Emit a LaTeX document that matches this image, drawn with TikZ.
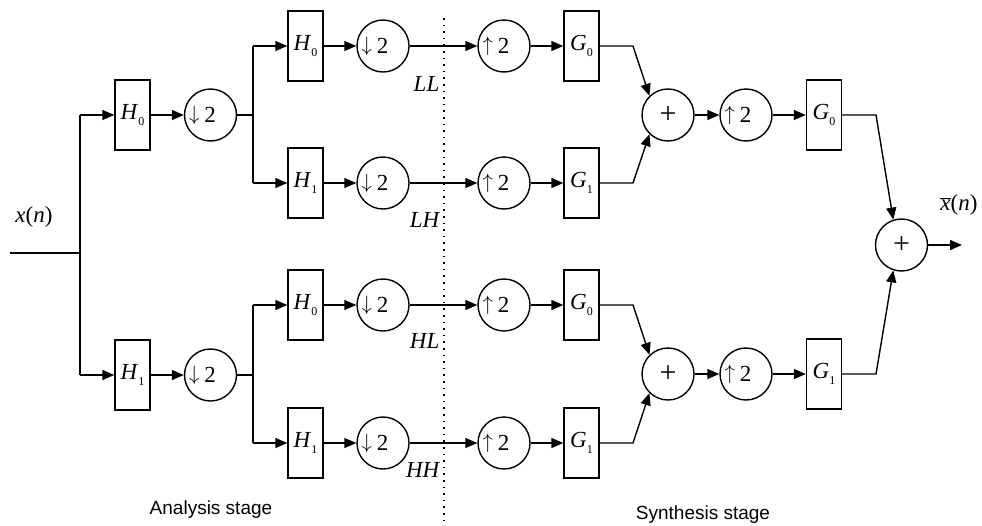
\documentclass[tikz,border=0pt]{standalone}
\usepackage{fontspec}
\setmainfont{Liberation Serif}
\newfontfamily\labelsans{Liberation Sans}
\usetikzlibrary{arrows.meta}
\newcommand{\flt}[2]{\textit{#1}\raisebox{-0.25em}{\fontsize{12}{12}\selectfont #2}}
\newcommand{\arr}[1]{\raisebox{2.5pt}{\fontsize{20.74}{21}\selectfont$#1$}}
\newcommand{\dn}{\arr{\downarrow}\kern5pt 2\kern16pt}
\newcommand{\up}{\arr{\uparrow}\kern5pt 2\kern16pt}
\begin{document}
\begin{tikzpicture}[x=1pt,y=-1pt, line width=1.4pt,
  filt/.style={draw, minimum width=35pt, minimum height=70pt, inner sep=0pt, font=\fontsize{23}{27}\selectfont},
  samp/.style={draw, circle, minimum size=52pt, inner sep=0pt, font=\fontsize{23}{27}\selectfont},
  summ/.style={draw, circle, minimum size=52pt, inner sep=0pt, font=\fontsize{30}{32}\selectfont},
  conn/.style={-{Triangle[length=12pt,width=10pt]}},
  band/.style={font=\fontsize{23}{27}\selectfont, inner sep=0pt},
  bandit/.style={font=\fontsize{23}{27}\selectfont\itshape, inner sep=0pt, anchor=east},
  stage/.style={font=\fontsize{19}{22}\selectfont\labelsans, inner sep=0pt},
  sep/.style={line width=1.6pt, dash pattern=on 1.6pt off 5pt}]
\useasboundingbox (0,0) rectangle (982,525);

% input
\coordinate (in) at (10,253);
\coordinate (j0) at (80,253);
\coordinate (j0a) at (80,115);
\coordinate (j0b) at (80,375);
\node[band] (xin) at (34,217) {\textit{x}(\textit{n})};

% level 1
\node[filt] (H0a) at (132.5,115) {\flt{H}{0}};
\node[filt] (H1a) at (132.5,375) {\flt{H}{1}};
\node[samp] (D1a) at (210.5,115) {\dn};
\node[samp] (D1b) at (210.5,375) {\dn};
\coordinate (ja) at (253,115);
\coordinate (jb) at (253,375);
\coordinate (ja1) at (253,46);
\coordinate (ja2) at (253,183);
\coordinate (jb1) at (253,305);
\coordinate (jb2) at (253,443);

% level 2 analysis
\node[filt] (HA0) at (305.5,46) {\flt{H}{0}};
\node[filt] (HA1) at (305.5,183) {\flt{H}{1}};
\node[filt] (HB0) at (305.5,305) {\flt{H}{0}};
\node[filt] (HB1) at (305.5,443) {\flt{H}{1}};
\node[samp] (DA0) at (383,46) {\dn};
\node[samp] (DA1) at (383,183) {\dn};
\node[samp] (DB0) at (383,305) {\dn};
\node[samp] (DB1) at (383,443) {\dn};

% synthesis level 2
\node[samp] (UA0) at (504,46) {\up};
\node[samp] (UA1) at (504,183) {\up};
\node[samp] (UB0) at (504,305) {\up};
\node[samp] (UB1) at (504,443) {\up};
\node[filt] (GA0) at (581.5,46) {\flt{G}{0}};
\node[filt] (GA1) at (581.5,183) {\flt{G}{1}};
\node[filt] (GB0) at (581.5,305) {\flt{G}{0}};
\node[filt] (GB1) at (581.5,443) {\flt{G}{1}};
\coordinate (ba0) at (633,46);
\coordinate (ba1) at (633,183);
\coordinate (bb0) at (633,305);
\coordinate (bb1) at (633,443);
\node[summ] (PA) at (668,115) {+};
\node[summ] (PB) at (668,374) {+};

% synthesis level 1
\node[samp] (UA) at (746,115) {\up};
\node[samp] (UB) at (746,374) {\up};
\node[filt] (G0) at (824,115) {\flt{G}{0}};
\node[filt] (G1) at (824,374) {\flt{G}{1}};
\coordinate (c0) at (876,115);
\coordinate (c1) at (876,374);
\node[summ] (PF) at (901.5,245) {+};
\coordinate (out) at (962,245);
\node[band] (xout) at (959,205) {$\overline{\mbox{\textit{x}}}$(\textit{n})};

% band labels
\node[bandit] (LL) at (440,84) {LL};
\node[bandit] (LH) at (440,220) {LH};
\node[bandit] (HL) at (440,341) {HL};
\node[bandit] (HH) at (440,470) {HH};

% stage labels
\node[stage] (ana) at (211,510) {Analysis stage};
\node[stage] (syn) at (703,515) {Synthesis stage};

% separator
\coordinate (s1) at (444,18);
\coordinate (s2) at (444,525);
\draw[sep] (s1) -- (s2);

% connectors
\draw (in) -- (j0);
\draw (j0a) -- (j0b);
\draw[conn] (j0a) -- (H0a.west);
\draw[conn] (j0b) -- (H1a.west);
\draw[conn] (H0a.east) -- (D1a.west);
\draw[conn] (H1a.east) -- (D1b.west);
\draw (D1a.east) -- (ja);
\draw (D1b.east) -- (jb);
\draw (ja1) -- (ja2);
\draw (jb1) -- (jb2);
\draw[conn] (ja1) -- (HA0.west);
\draw[conn] (ja2) -- (HA1.west);
\draw[conn] (jb1) -- (HB0.west);
\draw[conn] (jb2) -- (HB1.west);
\foreach \r in {A0,A1,B0,B1}{
  \draw[conn] (H\r.east) -- (D\r.west);
  \draw[conn] (D\r.east) -- (U\r.west);
  \draw[conn] (U\r.east) -- (G\r.west);
}
\draw[conn] (GA0.east) -- (ba0) -- (PA.134);
\draw[conn] (GA1.east) -- (ba1) -- (PA.226);
\draw[conn] (GB0.east) -- (bb0) -- (PB.134);
\draw[conn] (GB1.east) -- (bb1) -- (PB.226);
\draw[conn] (PA.east) -- (UA.west);
\draw[conn] (PB.east) -- (UB.west);
\draw[conn] (UA.east) -- (G0.west);
\draw[conn] (UB.east) -- (G1.west);
\draw[conn] (G0.east) -- (c0) -- (PF.108);
\draw[conn] (G1.east) -- (c1) -- (PF.252);
\draw[conn] (PF.east) -- (out);
\end{tikzpicture}
\end{document}
